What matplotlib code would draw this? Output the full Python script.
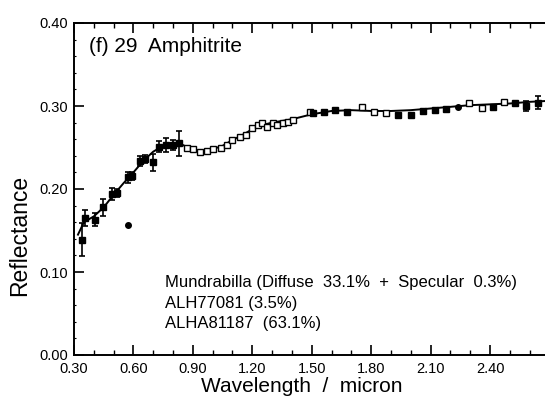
import matplotlib
matplotlib.use("Agg")
import matplotlib.pyplot as plt
from matplotlib.ticker import MultipleLocator, FixedLocator

plt.rcParams['font.family'] = ['Liberation Sans', 'DejaVu Sans']

# Ground-based photometry with error bars (filled squares)
ecas_wl = [0.34, 0.356, 0.406, 0.446, 0.49, 0.517, 0.573, 0.593, 0.633, 0.66,
           0.70, 0.73, 0.765, 0.80, 0.83]
ecas_r = [0.139, 0.165, 0.163, 0.178, 0.194, 0.195, 0.214, 0.216, 0.234, 0.236,
          0.232, 0.251, 0.253, 0.253, 0.255]
ecas_err = [0.020, 0.010, 0.008, 0.010, 0.007, 0.005, 0.007, 0.005, 0.006, 0.005,
            0.010, 0.007, 0.008, 0.006, 0.015]

# 52-colour style points (open squares)
open_wl = [0.87, 0.90, 0.935, 0.97, 1.00, 1.04, 1.07, 1.10, 1.14, 1.17, 1.20,
           1.23, 1.25, 1.275, 1.305, 1.325, 1.355, 1.38, 1.405, 1.49,
           1.755, 1.815, 1.875, 2.295, 2.36, 2.47]
open_r = [0.250, 0.248, 0.245, 0.246, 0.248, 0.250, 0.253, 0.259, 0.263, 0.265,
          0.273, 0.277, 0.280, 0.275, 0.280, 0.277, 0.280, 0.281, 0.283, 0.293,
          0.299, 0.293, 0.291, 0.304, 0.298, 0.305]

# IR points (filled squares)
ir_wl = [1.507, 1.56, 1.62, 1.68, 1.936, 2.00, 2.06, 2.12, 2.18, 2.415, 2.525]
ir_r = [0.292, 0.293, 0.295, 0.293, 0.289, 0.289, 0.294, 0.295, 0.296, 0.299, 0.304]

# IR points with error bars
irerr_wl = [2.58, 2.64]
irerr_r = [0.300, 0.304]
irerr_e = [0.006, 0.008]

# filled circles
circ_wl = [0.573, 2.24]
circ_r = [0.157, 0.299]

# model fit curve
model_wl = [0.32, 0.35, 0.40, 0.45, 0.50, 0.55, 0.60, 0.65, 0.70, 0.75, 0.80,
            0.85, 0.90, 0.95, 1.00, 1.05, 1.10, 1.15, 1.20, 1.25, 1.30, 1.40,
            1.50, 1.60, 1.70, 1.80, 1.90, 2.00, 2.10, 2.20, 2.30, 2.40, 2.50,
            2.60, 2.68]
model_r = [0.145, 0.160, 0.167, 0.178, 0.193, 0.207, 0.220, 0.234, 0.245, 0.252,
           0.256, 0.253, 0.247, 0.246, 0.248, 0.252, 0.259, 0.265, 0.272, 0.277,
           0.280, 0.284, 0.290, 0.294, 0.295, 0.294, 0.294, 0.295, 0.297, 0.299,
           0.301, 0.302, 0.303, 0.305, 0.306]

xticks = [0.30, 0.60, 0.90, 1.20, 1.50, 1.80, 2.10, 2.40]
xticklabels = ['0.30', '0.60', '0.90', '1.20', '1.50', '1.80', '2.10', '2.40']
yticks = [0.0, 0.1, 0.2, 0.3, 0.4]
yticklabels = ['0.00', '0.10', '0.20', '0.30', '0.40']

title = '(f) 29  Amphitrite'
legend_lines = ['Mundrabilla (Diffuse  33.1%  +  Specular  0.3%)',
                'ALH77081 (3.5%)',
                'ALHA81187  (63.1%)']

fig = plt.figure(figsize=(5.45, 4.03), dpi=100)
ax = fig.add_axes([74/545, 48/403, 471/545, 332/403])

ax.plot(model_wl, model_r, color='black', lw=1.4, zorder=2)
ax.errorbar(ecas_wl, ecas_r, yerr=ecas_err, fmt='s', color='black', ms=4.5,
            capsize=2.5, elinewidth=1.2, capthick=1.2, zorder=3)
ax.plot(open_wl, open_r, 's', mfc='white', mec='black', ms=4, mew=1.0, zorder=4)
ax.plot(ir_wl, ir_r, 's', color='black', ms=4.5, zorder=4)
ax.errorbar(irerr_wl, irerr_r, yerr=irerr_e, fmt='s', color='black', ms=4.5,
            capsize=2.5, elinewidth=1.2, capthick=1.2, zorder=3)
ax.plot(circ_wl, circ_r, 'o', color='black', ms=4, zorder=4)

ax.set_xlim(0.3, 0.3 + 471/198.1)
ax.set_ylim(0.0, 0.4)
ax.xaxis.set_major_locator(FixedLocator(xticks))
ax.set_xticklabels(xticklabels)
ax.xaxis.set_minor_locator(MultipleLocator(0.1))
ax.yaxis.set_major_locator(FixedLocator(yticks))
ax.set_yticklabels(yticklabels)
ax.yaxis.set_minor_locator(MultipleLocator(0.02))

ax.spines['right'].set_visible(False)
for s in ['left', 'top', 'bottom']:
    ax.spines[s].set_linewidth(1.4)

ax.tick_params(axis='x', which='both', direction='in', top=True, bottom=True,
               labelsize=10.5, pad=5)
ax.tick_params(axis='x', which='major', length=7, width=1.2)
ax.tick_params(axis='x', which='minor', length=3.5, width=1.0)
ax.tick_params(axis='y', which='both', direction='in', right=False,
               labelsize=10.5, pad=4)
ax.tick_params(axis='y', which='major', length=7, width=1.2)
ax.tick_params(axis='y', which='minor', length=1.5, width=0.8)

ax.set_xlabel('Wavelength  /  micron', fontsize=15)
ax.xaxis.set_label_coords(0.484, -0.066)
ax.set_ylabel('Reflectance', fontsize=16.5)
ax.yaxis.set_label_coords(-0.09, 0.36)

ax.text(0.032, 0.928, title, transform=ax.transAxes, fontsize=15,
        ha='left', va='center')
for i, line in enumerate(legend_lines):
    ax.text(0.193, 0.217 - i * 0.0605, line, transform=ax.transAxes,
            fontsize=12, ha='left', va='center')

fig.savefig('out.png', dpi=100)
